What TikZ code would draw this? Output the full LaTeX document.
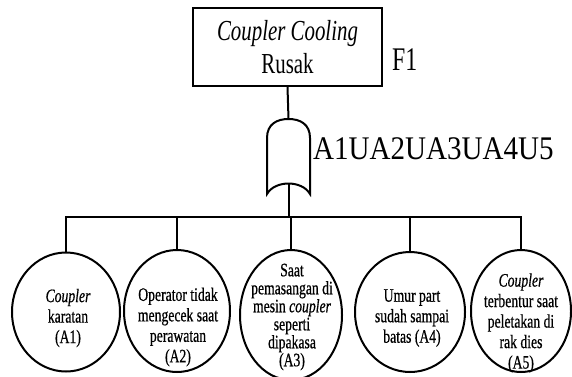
\documentclass[tikz,border=0pt]{standalone}
\usepackage{fontspec}
\setmainfont{Liberation Serif}
\newfontfamily\cfont{Liberation Serif}[FakeStretch=0.72]
\newfontfamily\bfont{Liberation Serif}[FakeStretch=0.72,FakeBold=0.6]
\newfontfamily\lfont{Liberation Serif}[FakeStretch=0.88]
\usetikzlibrary{shapes.geometric,calc}
\begin{document}
\begin{tikzpicture}[x=1pt,y=-1pt,
  line/.style={line width=2pt},
  cause/.style={draw,line width=2pt,ellipse,inner sep=0pt},
  ctext/.style={align=center,font=\bfont\fontsize{19}{20.5}\selectfont,inner sep=0pt},
]
\useasboundingbox (0,0) rectangle (572,376);
% top event
\node[draw,line width=2pt,minimum width=189pt,minimum height=78pt,inner sep=0pt,
      align=center,font=\cfont\fontsize{29}{33}\selectfont] (top) at (287.5,47)
      {\textit{Coupler Cooling}\\Rusak};
\node[anchor=west,font=\cfont\fontsize{33}{33}\selectfont,inner sep=0pt] (f1) at (392,60) {F1};
% OR gate
\coordinate (gtop) at (288.5,119);
\coordinate (gbot) at (288.5,183.5);
\draw[line] (267,194) -- (267,138) .. controls (267,124) and (277,119) .. (gtop)
  .. controls (300,119) and (310,124) .. (310,138) -- (310,194)
  .. controls (302,180) and (275,180) .. (267,194) -- cycle;
\node[anchor=west,font=\lfont\fontsize{33}{33}\selectfont,inner sep=0pt] (lbl) at (313,149) {A1UA2UA3UA4U5};
\draw[line] (top.south) -- (gtop);
% basic events
\node[cause,minimum width=108pt,minimum height=119pt] (c1) at (66,312) {};
\node[cause,minimum width=106pt,minimum height=122pt] (c2) at (177,311) {};
\node[cause,minimum width=102pt,minimum height=130pt] (c3) at (291,315) {};
\node[cause,minimum width=110pt,minimum height=120pt] (c4) at (410,312) {};
\node[cause,minimum width=100pt,minimum height=122pt] (c5) at (521,311) {};
\coordinate (bar) at (288.5,217);
\draw[line] (gbot) -- (bar);
\draw[line] (c1.north) |- (bar) -| (c5.north);
\draw[line] (c2.north) -- (c2.north |- bar);
\draw[line] (c3.north) -- (c3.north |- bar);
\draw[line] (c4.north) -- (c4.north |- bar);
% texts
\node[ctext] (t1) at (68,318) {\textit{Coupler}\\karatan\\(A1)};
\node[ctext] (t2) at (178,327) {Operator tidak\\mengecek saat\\perawatan\\(A2)};
\node[ctext,font=\bfont\fontsize{19}{18}\selectfont] (t3) at (292,317) {Saat\\pemasangan di\\mesin \textit{coupler}\\seperti\\dipakasa\\(A3)};
\node[ctext] (t4) at (412,318) {Umur part\\sudah sampai\\batas (A4)};
\node[ctext] (t5) at (521,323) {\textit{Coupler}\\terbentur saat\\peletakan di\\rak dies\\(A5)};
\end{tikzpicture}
\end{document}
